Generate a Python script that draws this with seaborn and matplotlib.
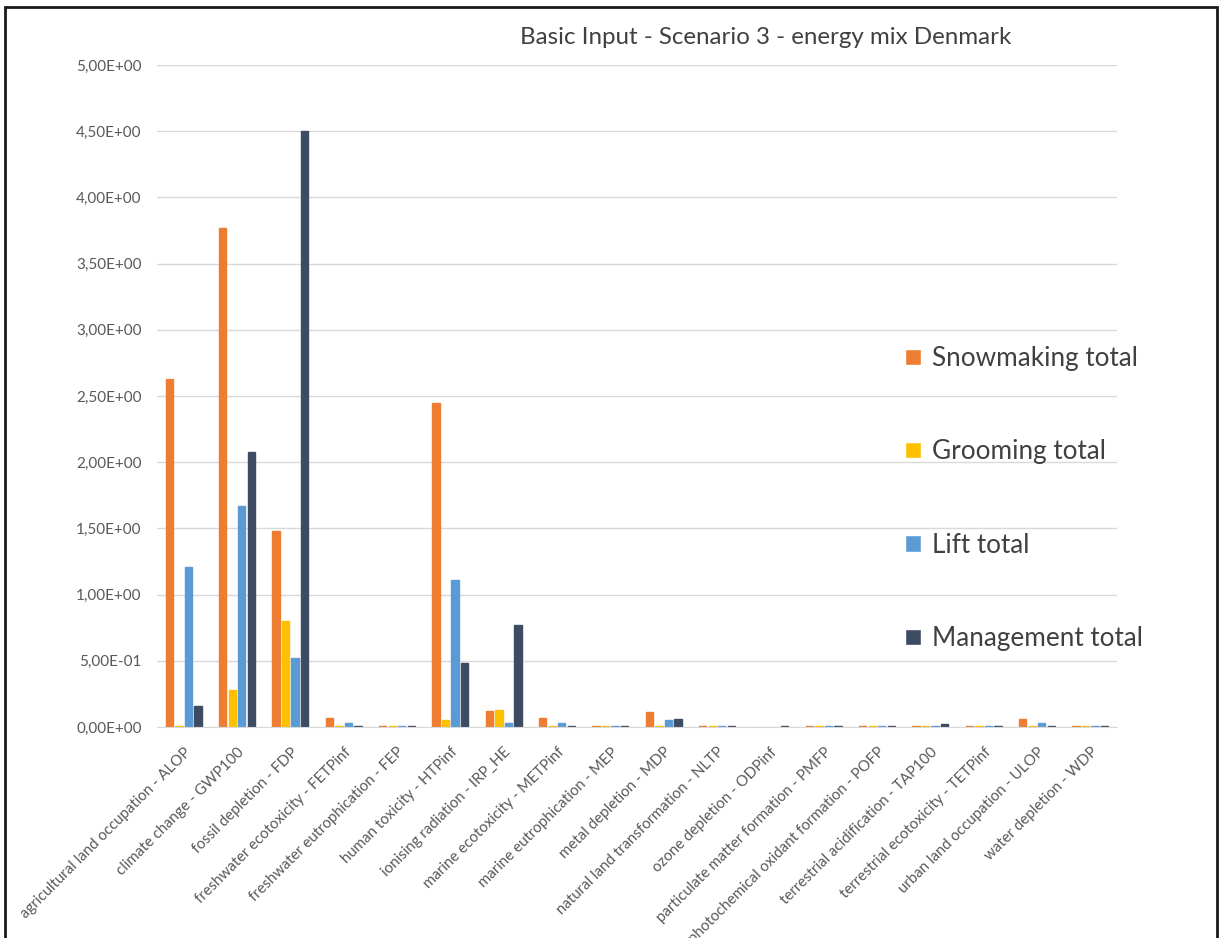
import matplotlib
matplotlib.use("Agg")
import matplotlib.pyplot as plt
import matplotlib.patches as mpatches
import seaborn as sns
import pandas as pd

categories = [
    "agricultural land occupation - ALOP",
    "climate change - GWP100",
    "fossil depletion - FDP",
    "freshwater ecotoxicity - FETPinf",
    "freshwater eutrophication - FEP",
    "human toxicity - HTPinf",
    "ionising radiation - IRP_HE",
    "marine ecotoxicity - METPinf",
    "marine eutrophication - MEP",
    "metal depletion - MDP",
    "natural land transformation - NLTP",
    "ozone depletion - ODPinf",
    "particulate matter formation - PMFP",
    "photochemical oxidant formation - POFP",
    "terrestrial acidification - TAP100",
    "terrestrial ecotoxicity - TETPinf",
    "urban land occupation - ULOP",
    "water depletion - WDP",
]
series_names = ["Snowmaking total", "Grooming total", "Lift total", "Management total"]

snowmaking = [2.63, 3.77, 1.48, 0.07, 0.01, 2.45, 0.12, 0.07, 0.01, 0.11, 0.01, 0.0, 0.01, 0.01, 0.01, 0.01, 0.06, 0.01]
grooming   = [0.01, 0.28, 0.80, 0.01, 0.01, 0.05, 0.13, 0.01, 0.01, 0.01, 0.01, 0.0, 0.01, 0.01, 0.01, 0.01, 0.01, 0.01]
lift       = [1.21, 1.67, 0.52, 0.03, 0.01, 1.11, 0.03, 0.03, 0.01, 0.05, 0.01, 0.0, 0.01, 0.01, 0.01, 0.01, 0.03, 0.01]
management = [0.16, 2.08, 4.50, 0.01, 0.01, 0.48, 0.77, 0.01, 0.01, 0.06, 0.01, 0.01, 0.01, 0.01, 0.02, 0.01, 0.01, 0.01]

title = "Basic Input - Scenario 3 - energy mix Denmark"
colors = ["#ED7D31", "#FFC000", "#5B9BD5", "#3E4C63"]

rows = []
for name, vals in zip(series_names, [snowmaking, grooming, lift, management]):
    for c, v in zip(categories, vals):
        rows.append({"category": c, "series": name, "value": v})
df = pd.DataFrame(rows)

sns.set_style("white")
plt.rcParams["font.family"] = ["Lato", "DejaVu Sans"]

W, H = 1221, 938
fig = plt.figure(figsize=(W / 100, H / 100), dpi=100)
ax = fig.add_axes([157 / W, 1 - 727 / H, (1117 - 157) / W, (727 - 65) / H])

sns.barplot(data=df, x="category", y="value", hue="series", hue_order=series_names,
            order=categories, palette=colors, width=0.71, gap=0.22, ax=ax,
            saturation=1, legend=True)

for p in ax.patches:
    if p.get_height() > 0:
        p.set_edgecolor(p.get_facecolor())
        p.set_linewidth(1.0)

ax.set_ylim(0, 5)
ax.set_yticks([i * 0.5 for i in range(11)])
ax.set_yticklabels([f"{v:.2E}".replace(".", ",") for v in ax.get_yticks()],
                   fontsize=11, color="#595959")
ax.yaxis.grid(True, color="#D9D9D9", lw=1)
ax.set_axisbelow(True)
ax.set_xlabel("")
ax.set_ylabel("")
for s in ["left", "right", "top"]:
    ax.spines[s].set_visible(False)
ax.spines["bottom"].set_color("#D9D9D9")
ax.tick_params(axis="y", length=0, pad=11)
ax.tick_params(axis="x", length=0, pad=13)
ax.set_xticks(range(len(categories)))
ax.set_xticklabels(categories, rotation=45, ha="right", rotation_mode="anchor",
                   fontsize=10.8, color="#595959")

handles, labels = ax.get_legend_handles_labels()
ax.get_legend().remove()
fig.legend(handles, labels, loc="upper left", bbox_to_anchor=(905 / W, 1 - 346 / H),
           frameon=False, fontsize=18.8, handlelength=0.6, handleheight=0.6,
           handletextpad=0.42, labelspacing=2.62, borderpad=0, borderaxespad=0,
           labelcolor="#404040")

fig.text(766 / W, 1 - 37 / H, title, ha="center", va="center", fontsize=17.4, color="#404040")

rect = mpatches.Rectangle((5 / W, -0.02), (1217 - 5) / W, 1.02 - 7 / H,
                          transform=fig.transFigure, fill=False, edgecolor="#1a1a1a", lw=2)
fig.patches.append(rect)

fig.savefig("out.png", dpi=100)
